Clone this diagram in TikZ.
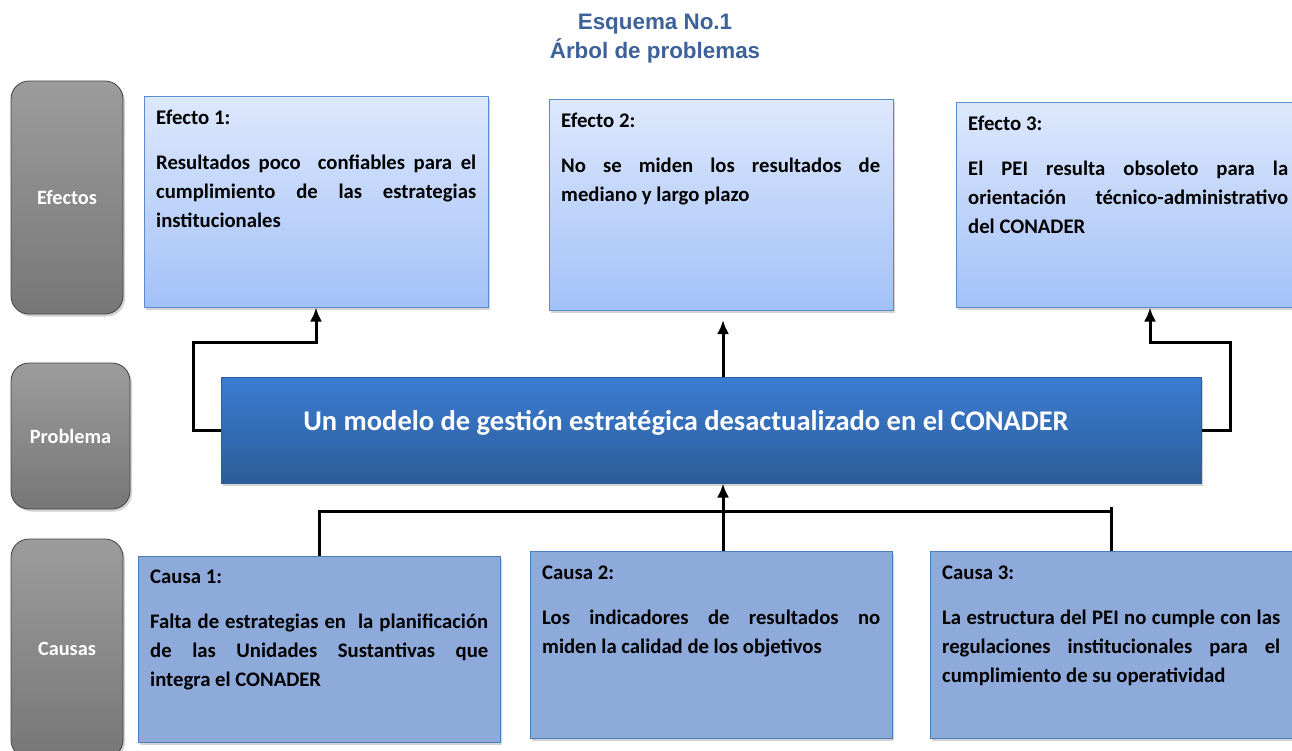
\documentclass[tikz,border=0pt]{standalone}
\usepackage{fontspec}
\setmainfont{Carlito}
\newfontfamily\titlefont{Liberation Sans}
\usetikzlibrary{arrows.meta,shadows}
\definecolor{titleblue}{HTML}{3C6298}
\definecolor{efTop}{HTML}{DDE8FC}
\definecolor{efBot}{HTML}{A3C1F8}
\definecolor{efLine}{HTML}{5A8AD0}
\definecolor{caFill}{HTML}{8EAADB}
\definecolor{caLine}{HTML}{4A7EBB}
\definecolor{prTop}{HTML}{3B7DD2}
\definecolor{prBot}{HTML}{2D5C99}
\definecolor{prLine}{HTML}{2F5F9A}
\definecolor{gyTop}{HTML}{9C9C9C}
\definecolor{gyBot}{HTML}{777777}
\tikzset{
  sh/.style={drop shadow={opacity=0.35,shadow xshift=2pt,shadow yshift=-2.5pt}},
  graybox/.style={draw=black!75,line width=0.8pt,rounded corners=18pt,top color=gyTop,bottom color=gyBot,sh,inner sep=0pt},
  efbox/.style={draw=efLine,line width=1pt,top color=efTop,bottom color=efBot,sh,inner sep=0pt},
  cabox/.style={draw=caLine,line width=1pt,fill=caFill,sh,inner sep=0pt},
  prbox/.style={draw=prLine,line width=1pt,top color=prTop,bottom color=prBot,sh,inner sep=0pt},
  glabel/.style={text=white,font=\bfseries\fontsize{20.3}{22}\selectfont},
  hdr/.style={anchor=north west,inner sep=0pt,font=\bfseries\fontsize{20.8}{24}\selectfont},
  body/.style={anchor=north west,inner sep=0pt,align=justify,font=\bfseries\fontsize{20.7}{28.7}\selectfont},
  conn/.style={line width=3pt,draw=black},
  arr/.style={conn,-{Latex[length=14pt,width=12pt]}},
}
\begin{document}
\begin{tikzpicture}[x=1pt,y=-1pt]
\useasboundingbox (0,0) rectangle (1292,750);
% title
\node[text=titleblue,font=\titlefont\bfseries\fontsize{22.4}{26}\selectfont] (t1) at (655,24) {Esquema No.1};
\node[text=titleblue,font=\titlefont\bfseries\fontsize{22.4}{26}\selectfont] (t2) at (655,51) {Árbol de problemas};
% gray side boxes
\path[graybox] (11,81) rectangle (123,314) node[glabel,midway] (gE) {Efectos};
\path[graybox] (11,363) rectangle (130,509) node[glabel,midway] (gP) {Problema};
\path[graybox] (11,539) rectangle (123,758) node[glabel] (gC) at (67,649) {Causas};
% effect boxes
\node[efbox,minimum width=344pt,minimum height=211pt] (e1) at (316,201.5) {};
\node[efbox,minimum width=344pt,minimum height=211pt] (e2) at (721,204.5) {};
\node[efbox,minimum width=388pt,minimum height=205pt] (e3) at (1150,204.5) {};
% problem box
\node[prbox,minimum width=980pt,minimum height=106pt] (p) at (711,430) {};
\node[text=white,font=\bfseries\fontsize{28.5}{32}\selectfont] (pt) at (686,423) {Un modelo de gestión estratégica desactualizado en el CONADER};
% cause boxes
\node[cabox,minimum width=362pt,minimum height=186pt] (c1) at (319,649) {};
\node[cabox,minimum width=362pt,minimum height=187pt] (c2) at (711,644.5) {};
\node[cabox,minimum width=362pt,minimum height=187pt] (c3) at (1111,644.5) {};
% texts effects
\node[hdr] (e1h) at (156,110) {Efecto 1:};
\node[body,text width=320pt] (e1b) at (156,155) {Resultados poco\ \ confiables para el\linebreak cumplimiento de las estrategias\linebreak institucionales};
\node[hdr] (e2h) at (561,113) {Efecto 2:};
\node[body,text width=319pt] (e2b) at (561,158) {No se miden los resultados de\linebreak mediano y largo plazo};
\node[hdr] (e3h) at (968,116) {Efecto 3:};
\node[body,text width=320pt] (e3b) at (968,161) {El PEI resulta obsoleto para la\linebreak orientación\ \ técnico-administrativo\linebreak del CONADER};
% texts causes
\node[hdr] (c1h) at (150,570) {Causa 1:};
\node[body,text width=338pt] (c1b) at (150,614) {Falta de estrategias en\ \ la planificación\linebreak de las Unidades Sustantivas que\linebreak integra el CONADER};
\node[hdr] (c2h) at (542,566) {Causa 2:};
\node[body,text width=338pt] (c2b) at (542,610) {Los indicadores de resultados no\linebreak miden la calidad de los objetivos};
\node[hdr] (c3h) at (942,566) {Causa 3:};
\node[body,text width=338pt] (c3b) at (942,610) {La estructura del PEI no cumple con las\linebreak regulaciones institucionales para el\linebreak cumplimiento de su operatividad};
% connectors upper
\coordinate (lk) at (193,342);
\coordinate (rk) at (1230,342);
\coordinate (mt) at (723,320);
\draw[arr] (p.west) -| (lk) -| (e1.south);
\draw[arr] (p.east) -| (rk) -| (e3.south);
\draw[arr] (p.north -| mt) -- (mt);
% connectors lower
\coordinate (bl) at (320,511);
\coordinate (br) at (1111,511);
\draw[conn] (c1.north) -- (c1.north |- bl) -- (br);
\draw[conn] (c3.north) -- (c3.north |- 0,507);
\draw[conn] (c2.north -| mt) -- (mt |- bl);
\draw[arr] (mt |- bl) -- (p.south -| mt);
\end{tikzpicture}
\end{document}
